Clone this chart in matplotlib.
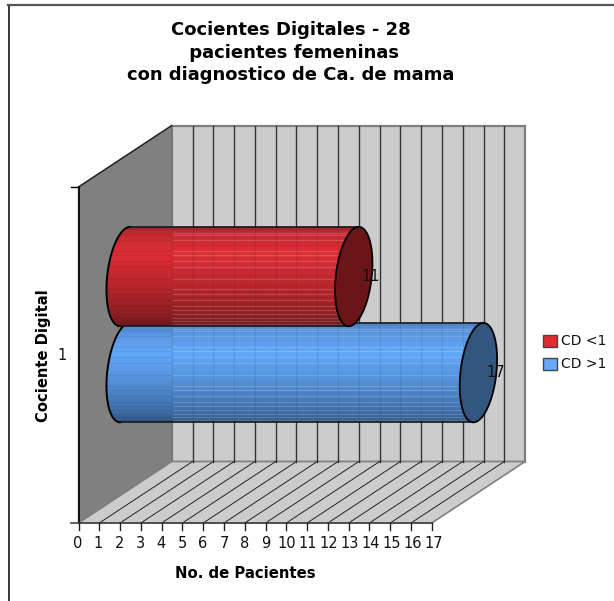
import matplotlib
matplotlib.use("Agg")
import matplotlib.pyplot as plt
from matplotlib.colors import LinearSegmentedColormap
from matplotlib.patches import Polygon, Rectangle
import numpy as np

series_names = ["CD <1", "CD >1"]
patient_counts = [11, 17]
value_ticks = list(range(0, 18))
category_label = "1"

title = "Cocientes Digitales - 28\n pacientes femeninas\ncon diagnostico de Ca. de mama"
x_title = "No. de Pacientes"
y_title = "Cociente Digital"

body_stops = [
	[(0.0, "#8e2228"), (0.06, "#c22a32"), (0.28, "#de2e36"), (0.6, "#b8262c"), (0.9, "#8e1f24"), (1.0, "#6e1a1e")],
	[(0.0, "#4a7dbd"), (0.06, "#5590d8"), (0.3, "#62a8fa"), (0.6, "#5490d8"), (0.9, "#3f6da8"), (1.0, "#34598a")],
]
cap_colors = ["#6c1518", "#33567f"]
swatch_colors = ["#e02b30", "#66aaff"]

# light streaks across the cylinder bodies, as a fraction of the body height
streaks = [0.06, 0.084, 0.135, 0.24, 0.285, 0.34, 0.40, 0.528, 0.63, 0.676, 0.736, 0.80, 0.84, 0.88, 0.913, 0.947, 0.973]

# projected box: front plane corners and the depth offset towards the back wall
X0, UNIT = 78.5, 20.78
Y_BOTTOM, Y_TOP = 523.0, 187.0
DEPTH_X, DEPTH_Y = 93.3, -61.5
# centre height of each cylinder on the front plane, radius and ellipse shape
CENTERS = [0.642, 0.356]
RADIUS = 49.7
CAP_A, CAP_SKEW = 18.0, -5.0


def project(value: float, depth: float = 0.0, height: float = 0.0) -> tuple[float, float]:
	x = X0 + value * UNIT + depth * DEPTH_X
	y = Y_BOTTOM - height * (Y_BOTTOM - Y_TOP) + depth * DEPTH_Y
	return x, y


def cap_points(cx: float, cy: float, t: np.ndarray) -> np.ndarray:
	return np.column_stack(
		[cx + CAP_A * np.cos(t) + CAP_SKEW * np.sin(t), cy + RADIUS * np.sin(t)]
	)


def draw_cylinder(ax, count: int, center: float, stops, cap_color: str, zorder: int) -> None:
	x_start, cy = project(0, 0.5, center)
	x_end, _ = project(count, 0.5, center)

	left = cap_points(x_start, cy, np.linspace(1.5 * np.pi, 0.5 * np.pi, 80))
	right = cap_points(x_end, cy, np.linspace(0.5 * np.pi, -0.5 * np.pi, 80))
	outline = np.vstack([left, right])

	clip = Polygon(outline, closed=True, transform=ax.transData, facecolor="none", edgecolor="none")
	ax.add_patch(clip)

	cmap = LinearSegmentedColormap.from_list("body", stops)
	gradient = np.linspace(0, 1, 256).reshape(-1, 1)
	image = ax.imshow(
		gradient,
		cmap=cmap,
		aspect="auto",
		extent=(x_start - 30, x_end + 30, cy + RADIUS, cy - RADIUS),
		zorder=zorder,
		interpolation="bilinear",
	)
	image.set_clip_path(clip)

	wall_x = project(0, 1)[0]
	for frac in streaks:
		y = cy - RADIUS + frac * 2 * RADIUS
		dark, = ax.plot([x_start - 30, wall_x], [y, y], color="#000000", lw=0.8, alpha=0.07, zorder=zorder)
		light, = ax.plot([wall_x, x_end + 30], [y, y], color="#ffffff", lw=0.9, alpha=0.16, zorder=zorder)
		dark.set_clip_path(clip)
		light.set_clip_path(clip)

	# back wall grid faintly visible through the body
	for value in value_ticks:
		x = project(value, 1)[0]
		if x < x_end:
			line, = ax.plot([x, x], [cy - RADIUS, cy + RADIUS], color="#000000", lw=1.0, alpha=0.08, zorder=zorder)
			line.set_clip_path(clip)

	ax.plot(left[:, 0], left[:, 1], color="#000000", lw=1.4, zorder=zorder)
	ax.plot(
		[left[0, 0], right[0, 0] + 10],
		[cy - RADIUS, cy - RADIUS],
		color="#1a1a1a",
		lw=1.2,
		zorder=zorder,
	)
	ax.plot(
		[left[-1, 0], right[0, 0]],
		[cy + RADIUS, cy + RADIUS],
		color="#1a1a1a",
		lw=1.2,
		zorder=zorder,
	)
	cap = cap_points(x_end, cy, np.linspace(0, 2 * np.pi, 160))
	ax.add_patch(Polygon(cap, closed=True, facecolor=cap_color, edgecolor="#000000", lw=1.3, zorder=zorder))
	ax.text(x_end + 17, cy, str(count), ha="center", va="center", fontsize=10.5, color="#111111", zorder=20)


def main() -> None:
	plt.rcParams["font.family"] = ["DejaVu Sans"]
	fig = plt.figure(figsize=(6.14, 6.01), dpi=100)
	ax = fig.add_axes([0, 0, 1, 1])
	ax.set_xlim(0, 614)
	ax.set_ylim(601, 0)
	ax.axis("off")

	# outer frame, only left and top are visible
	ax.plot([8.5, 8.5], [5, 601], color="#000000", lw=1.1)
	ax.plot([8, 614], [5, 5], color="#555555", lw=1.6)

	v_max = value_ticks[-1]
	back_wall = [project(0, 1, 0), project(v_max, 1, 0), project(v_max, 1, 1), project(0, 1, 1)]
	side_wall = [project(0, 0, 0), project(0, 1, 0), project(0, 1, 1), project(0, 0, 1)]
	floor = [project(0, 0, 0), project(v_max, 0, 0), project(v_max, 1, 0), project(0, 1, 0)]
	ax.add_patch(Polygon(back_wall, closed=True, facecolor="#cccccc", edgecolor="#808080", lw=1.6, zorder=1))
	ax.add_patch(Polygon(side_wall, closed=True, facecolor="#808080", edgecolor="#707070", lw=1.0, zorder=1))
	ax.add_patch(Polygon(floor, closed=True, facecolor="#cccccc", edgecolor="#808080", lw=1.2, zorder=1))

	for value in value_ticks[1:-1]:
		bx, by_low = project(value, 1, 0)
		_, by_high = project(value, 1, 1)
		fx, fy = project(value, 0, 0)
		ax.plot([bx, bx], [by_low, by_high], color="#333333", lw=1.0, zorder=2)
		ax.plot([fx, bx], [fy, by_low], color="#222222", lw=0.7, zorder=2)

	# side wall top edge and the axes
	ax.plot(*zip(project(0, 0, 1), project(0, 1, 1)), color="#222222", lw=1.0, zorder=3)
	ax.plot(*zip(project(0, 0, 0), project(0, 0, 1)), color="#000000", lw=1.2, zorder=3)
	ax.plot([X0 - 8, project(v_max)[0]], [Y_BOTTOM, Y_BOTTOM], color="#444444", lw=1.2, zorder=3)
	ax.plot([X0 - 8, X0], [Y_TOP, Y_TOP], color="#000000", lw=1.0, zorder=3)
	for value in value_ticks:
		x = project(value)[0]
		ax.plot([x, x], [Y_BOTTOM, Y_BOTTOM + 7], color="#222222", lw=1.0, zorder=3)
		ax.text(x - 1.2 + value * 0.19, 543, str(value), ha="center", va="center", fontsize=10.5, color="#111111")

	# the lower cylinder goes first so the upper one overlaps it
	for i in (1, 0):
		draw_cylinder(ax, patient_counts[i], CENTERS[i], body_stops[i], cap_colors[i], 5 + (1 - i))

	ax.set_xlim(0, 614)
	ax.set_ylim(601, 0)

	ax.text(291, 52.5, title, ha="center", va="center", fontsize=13, fontweight="bold", linespacing=1.3, color="#000000")
	ax.text(245, 573, x_title, ha="center", va="center", fontsize=10.7, fontweight="bold", color="#000000")
	ax.text(43.5, 356, y_title, rotation=90, ha="center", va="center", fontsize=10.6, fontweight="bold", color="#000000")
	ax.text(62, 356, category_label, ha="center", va="center", fontsize=10.5, color="#111111")

	for name, color, top in zip(series_names, swatch_colors, (335, 358)):
		ax.add_patch(Rectangle((543, top), 13.5, 12, facecolor=color, edgecolor="#444444", lw=1.0))
		ax.text(561, top + 6.2, name, ha="left", va="center", fontsize=10, color="#111111")

	fig.savefig("out.png", dpi=100)


if __name__ == "__main__":
	main()
